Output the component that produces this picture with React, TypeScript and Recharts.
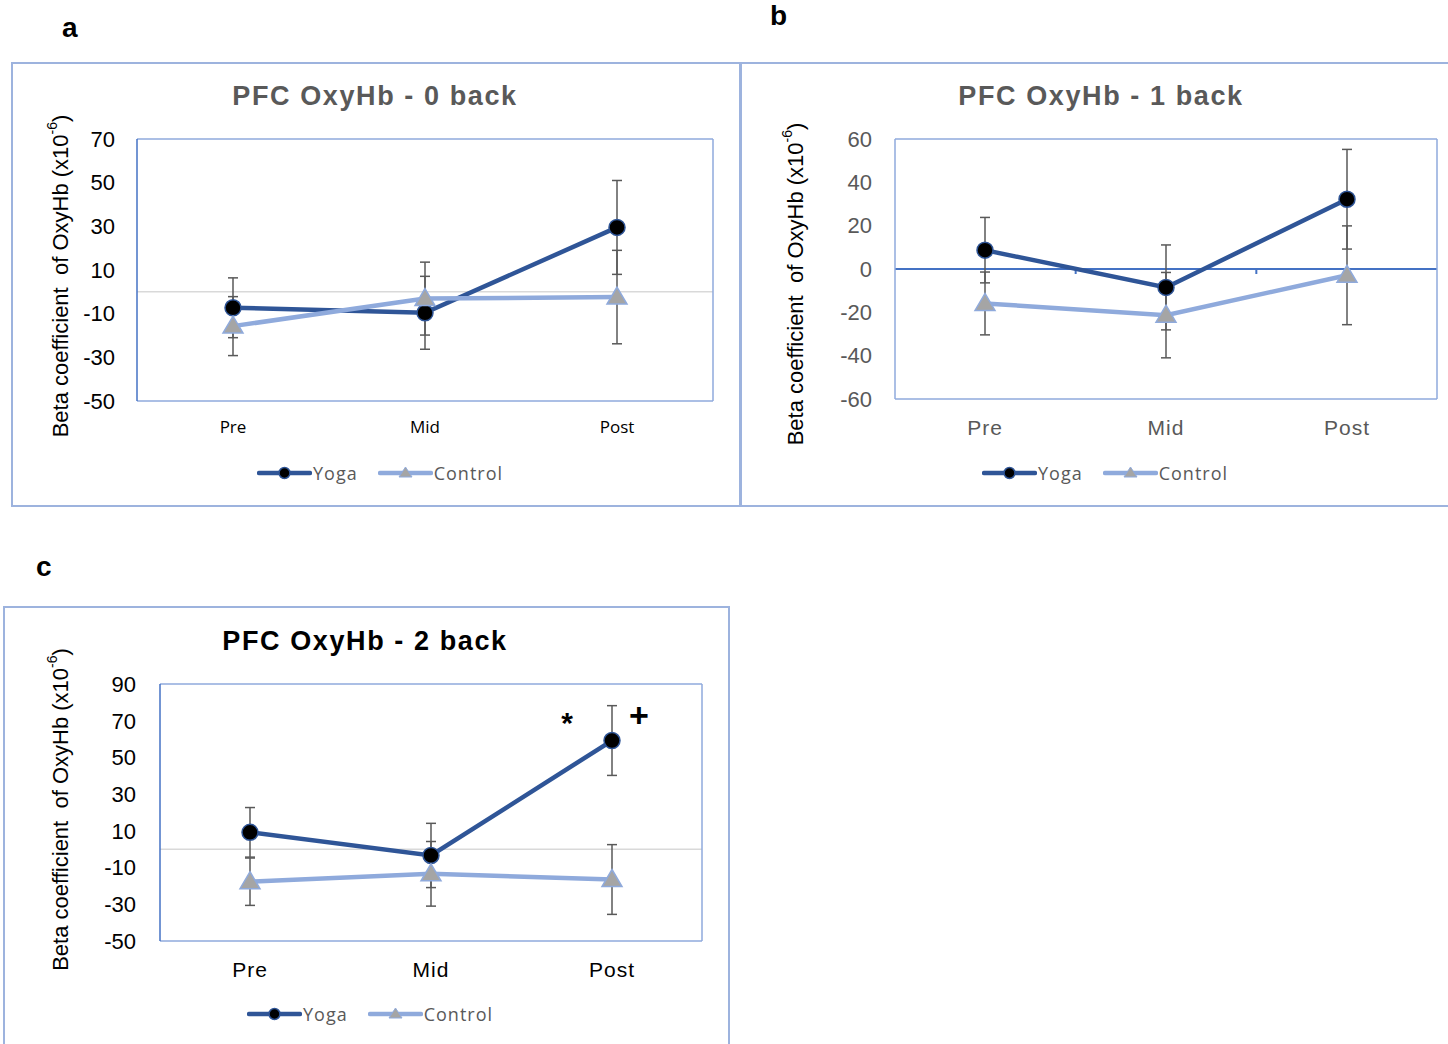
import React from "react";
import { LineChart, Line, XAxis, YAxis, ErrorBar, ReferenceLine, LabelList } from "recharts";

const phases = ["Pre", "Mid", "Post"];

// PFC OxyHb, 0 back
const yoga0 = [-7.3, -9.6, 29.5];
const yoga0Err = [13.7, 16.7, 21.5];
const control0 = [-15.7, -3.1, -2.4];
const control0Err = [13.5, 16.7, 21.4];
const ticks0 = [-50, -30, -10, 10, 30, 50, 70];

// PFC OxyHb, 1 back
const yoga1 = [8.7, -8.5, 32.2];
const yoga1Err = [15.1, 19.6, 23];
const control1 = [-15.9, -21.3, -2.9];
const control1Err = [14.5, 19.7, 22.8];
const ticks1 = [-60, -40, -20, 0, 20, 40, 60];

// PFC OxyHb, 2 back
const yoga2 = [9.2, -3.4, 59.2];
const yoga2Err = [13.5, 17.5, 19];
const control2 = [-17.7, -13.4, -16.5];
const control2Err = [12.9, 17.6, 19];
const ticks2 = [-50, -30, -10, 10, 30, 50, 70, 90];
const yoga2Sig = ["", "", "*"];
const yoga2Trend = ["", "", "+"];

const YOGA = "#2F5597";
const CONTROL = "#8FAADC";
const FRAME = "#8FAADC";
const FRAME_DARK = "#4472C4";
const BOX = "#9DB3DE";
const ERR = "#595959";
const GREY = "#595959";
const ARIAL = "'Liberation Sans', Arial, sans-serif";
const CALIBRI = "'Open Sans', sans-serif";

const rows = (yoga: number[], yogaErr: number[], control: number[], controlErr: number[]) =>
  phases.map((phase, i) => ({
    phase,
    yoga: yoga[i],
    yogaErr: yogaErr[i],
    control: control[i],
    controlErr: controlErr[i],
  }));

const triangleDot = (props: any) => {
  const { cx, cy, index } = props;
  if (cx == null || cy == null) return <g key={`t-${index}`} />;
  return (
    <path
      key={`t-${index}`}
      d={`M${cx},${cy - 10}L${cx + 10},${cy + 7}L${cx - 10},${cy + 7}Z`}
      fill="#A5A5A5"
      stroke={CONTROL}
      strokeWidth={1.5}
    />
  );
};

const yLabel = (dx: number, dy: number) => (props: any) => {
  const vb = props.viewBox;
  const x = vb.x + dx;
  const y = vb.y + vb.height / 2 + dy;
  return (
    <text
      x={x}
      y={y}
      transform={`rotate(-90 ${x} ${y})`}
      textAnchor="middle"
      dominantBaseline="central"
      fontSize={22}
      fontFamily={ARIAL}
      fill="#000"
      style={{ whiteSpace: "pre" }}
    >
      Beta coefficient  of OxyHb (x10
      <tspan dy={-8} fontSize={14}>-6</tspan>
      <tspan dy={8}>)</tspan>
    </text>
  );
};

// zero line with small ticks at the category boundaries (1-back panel)
const zeroAxis = (props: any) => {
  const { x1, x2, y1 } = props;
  const step = (x2 - x1) / phases.length;
  return (
    <g>
      <line x1={x1} y1={y1} x2={x2} y2={y1} stroke={FRAME_DARK} strokeWidth={2} />
      {phases.slice(1).map((p, i) => (
        <line key={p} x1={x1 + step * (i + 1)} y1={y1} x2={x1 + step * (i + 1)} y2={y1 + 5} stroke={FRAME_DARK} strokeWidth={2} />
      ))}
    </g>
  );
};

const sigLabel = (props: any) => {
  const { x, y, index } = props;
  if (!yoga2Sig[index] && !yoga2Trend[index]) return null;
  return (
    <g fontFamily={ARIAL} fontWeight="bold" fill="#000" textAnchor="middle">
      <text x={x - 45} y={y - 8} fontSize={30}>{yoga2Sig[index]}</text>
      <text x={x + 27} y={y - 14} fontSize={34}>{yoga2Trend[index]}</text>
    </g>
  );
};

type Box = { left: number; top: number; width: number; height: number };

interface PanelProps {
  letter: string;
  letterAt: [number, number];
  title: string;
  titleColor: string;
  titleAt: [number, number];
  box: Box;
  chart: Box & { margin: { top: number; right: number; bottom: number; left: number } };
  pad: number;
  data: ReturnType<typeof rows>;
  domain: [number, number];
  ticks: number[];
  yTickColor: string;
  xTick: { fontSize: number; fill: string; fontFamily: string; letterSpacing: number };
  xTickMargin: number;
  yTickMargin: number;
  frameLeft: string;
  zero: "grid" | "axis";
  labelShift: [number, number];
  legendAt: [number, number];
  marks?: boolean;
}

function LegendRow({ at }: { at: [number, number] }) {
  const item = { display: "flex", alignItems: "center" } as const;
  return (
    <div
      style={{
        position: "absolute",
        left: at[0],
        top: at[1] - 9,
        height: 18,
        display: "flex",
        alignItems: "center",
        fontFamily: CALIBRI,
        fontSize: 18,
        lineHeight: "18px",
        color: GREY,
        letterSpacing: 1,
      }}
    >
      <span style={item}>
        <svg width={55} height={18}>
          <line x1={2} y1={9} x2={53} y2={9} stroke={YOGA} strokeWidth={4.5} strokeLinecap="round" />
          <circle cx={27.5} cy={9} r={5.5} fill="#000" stroke={YOGA} strokeWidth={1.5} />
        </svg>
        <span style={{ marginLeft: 1 }}>Yoga</span>
      </span>
      <span style={{ ...item, marginLeft: 20 }}>
        <svg width={55} height={18}>
          <line x1={2} y1={9} x2={53} y2={9} stroke={CONTROL} strokeWidth={4.5} strokeLinecap="round" />
          <path d="M27.5,3L34,13L21,13Z" fill="#A5A5A5" stroke={CONTROL} strokeWidth={1} />
        </svg>
        <span style={{ marginLeft: 1 }}>Control</span>
      </span>
    </div>
  );
}

function Panel(p: PanelProps) {
  const { chart } = p;
  return (
    <>
      <div
        style={{
          position: "absolute",
          left: p.box.left,
          top: p.box.top,
          width: p.box.width,
          height: p.box.height,
          border: `2px solid ${BOX}`,
          boxSizing: "border-box",
        }}
      />
      <div
        style={{
          position: "absolute",
          left: p.letterAt[0],
          top: p.letterAt[1],
          fontFamily: ARIAL,
          fontWeight: "bold",
          fontSize: 28,
          lineHeight: "28px",
        }}
      >
        {p.letter}
      </div>
      <div
        style={{
          position: "absolute",
          left: p.titleAt[0] - 300,
          top: p.titleAt[1] - 17,
          width: 600,
          textAlign: "center",
          fontFamily: ARIAL,
          fontWeight: "bold",
          fontSize: 27,
          letterSpacing: 1.6,
          lineHeight: "34px",
          color: p.titleColor,
        }}
      >
        {p.title}
      </div>
      <div style={{ position: "absolute", left: chart.left, top: chart.top }}>
        <LineChart width={chart.width} height={chart.height} data={p.data} margin={chart.margin}>
          {p.zero === "grid" ? (
            <ReferenceLine y={0} stroke="#D9D9D9" strokeWidth={1.5} />
          ) : (
            <ReferenceLine y={0} shape={zeroAxis} />
          )}
          <XAxis
            dataKey="phase"
            padding={{ left: p.pad, right: p.pad }}
            height={40}
            tickSize={0}
            tickLine={false}
            tickMargin={p.xTickMargin}
            axisLine={{ stroke: FRAME, strokeWidth: 1.5 }}
            tick={p.xTick}
          />
          {/* top and right axes only close the plot frame */}
          <XAxis
            xAxisId="top"
            dataKey="phase"
            orientation="top"
            height={1}
            tick={false}
            tickLine={false}
            axisLine={{ stroke: FRAME, strokeWidth: 1.5 }}
          />
          <YAxis
            domain={p.domain}
            ticks={p.ticks}
            width={90}
            tickSize={0}
            tickLine={false}
            tickMargin={p.yTickMargin}
            interval={0}
            axisLine={{ stroke: p.frameLeft, strokeWidth: 1.5 }}
            tick={{ fontSize: 22, fill: p.yTickColor, fontFamily: ARIAL }}
            label={yLabel(p.labelShift[0], p.labelShift[1])}
          />
          <YAxis
            yAxisId="right"
            orientation="right"
            type="number"
            domain={[0, 1]}
            width={1}
            tick={false}
            tickLine={false}
            axisLine={{ stroke: FRAME, strokeWidth: 1.5 }}
          />
          <Line
            dataKey="yoga"
            stroke={YOGA}
            strokeWidth={4.5}
            dot={{ r: 8, fill: "#000", stroke: YOGA, strokeWidth: 1.5 }}
            activeDot={false}
            isAnimationActive={false}
          >
            <ErrorBar dataKey="yogaErr" width={5} stroke={ERR} strokeWidth={1.5} direction="y" isAnimationActive={false} />
            {p.marks && <LabelList dataKey="yoga" content={sigLabel} />}
          </Line>
          <Line
            dataKey="control"
            stroke={CONTROL}
            strokeWidth={4.5}
            dot={triangleDot}
            activeDot={false}
            isAnimationActive={false}
          >
            <ErrorBar dataKey="controlErr" width={5} stroke={ERR} strokeWidth={1.5} direction="y" isAnimationActive={false} />
          </Line>
        </LineChart>
      </div>
      <LegendRow at={p.legendAt} />
    </>
  );
}

const smallTick = { fontSize: 17, fill: "#000", fontFamily: CALIBRI, letterSpacing: 0 };

export default function App() {
  return (
    <div style={{ position: "absolute", left: 0, top: 0, width: 1448, height: 1044, background: "#fff", overflow: "hidden" }}>
      <Panel
        letter="a"
        letterAt={[62, 14]}
        title="PFC OxyHb - 0 back"
        titleColor={GREY}
        titleAt={[375, 96]}
        box={{ left: 11, top: 62, width: 731, height: 445 }}
        chart={{ left: 12, top: 63, width: 728, height: 442, margin: { top: 75, right: 26, bottom: 64, left: 35 } }}
        pad={96}
        data={rows(yoga0, yoga0Err, control0, control0Err)}
        domain={[-50, 70]}
        ticks={ticks0}
        yTickColor="#000"
        xTick={smallTick}
        xTickMargin={20}
        yTickMargin={22}
        frameLeft={FRAME_DARK}
        zero="grid"
        labelShift={[13, 6]}
        legendAt={[257, 473]}
      />
      <Panel
        letter="b"
        letterAt={[770, 2]}
        title="PFC OxyHb - 1 back"
        titleColor={GREY}
        titleAt={[1101, 96]}
        box={{ left: 739, top: 62, width: 720, height: 445 }}
        chart={{ left: 740, top: 63, width: 708, height: 442, margin: { top: 75, right: 10, bottom: 66, left: 65 } }}
        pad={90}
        data={rows(yoga1, yoga1Err, control1, control1Err)}
        domain={[-60, 60]}
        ticks={ticks1}
        yTickColor={GREY}
        xTick={{ fontSize: 21, fill: GREY, fontFamily: ARIAL, letterSpacing: 1 }}
        xTickMargin={21}
        yTickMargin={23}
        frameLeft={FRAME}
        zero="axis"
        labelShift={[-10, 15]}
        legendAt={[982, 473]}
      />
      <Panel
        letter="c"
        letterAt={[36, 553]}
        title="PFC OxyHb - 2 back"
        titleColor="#000"
        titleAt={[365, 641]}
        box={{ left: 3, top: 606, width: 727, height: 450 }}
        chart={{ left: 4, top: 607, width: 724, height: 437, margin: { top: 76, right: 25, bottom: 63, left: 66 } }}
        pad={90}
        data={rows(yoga2, yoga2Err, control2, control2Err)}
        domain={[-50, 90]}
        ticks={ticks2}
        yTickColor="#000"
        xTick={{ fontSize: 21, fill: "#000", fontFamily: ARIAL, letterSpacing: 1 }}
        xTickMargin={21}
        yTickMargin={24}
        frameLeft={FRAME_DARK}
        zero="grid"
        labelShift={[-10, -3]}
        legendAt={[247, 1014]}
        marks
      />
    </div>
  );
}
